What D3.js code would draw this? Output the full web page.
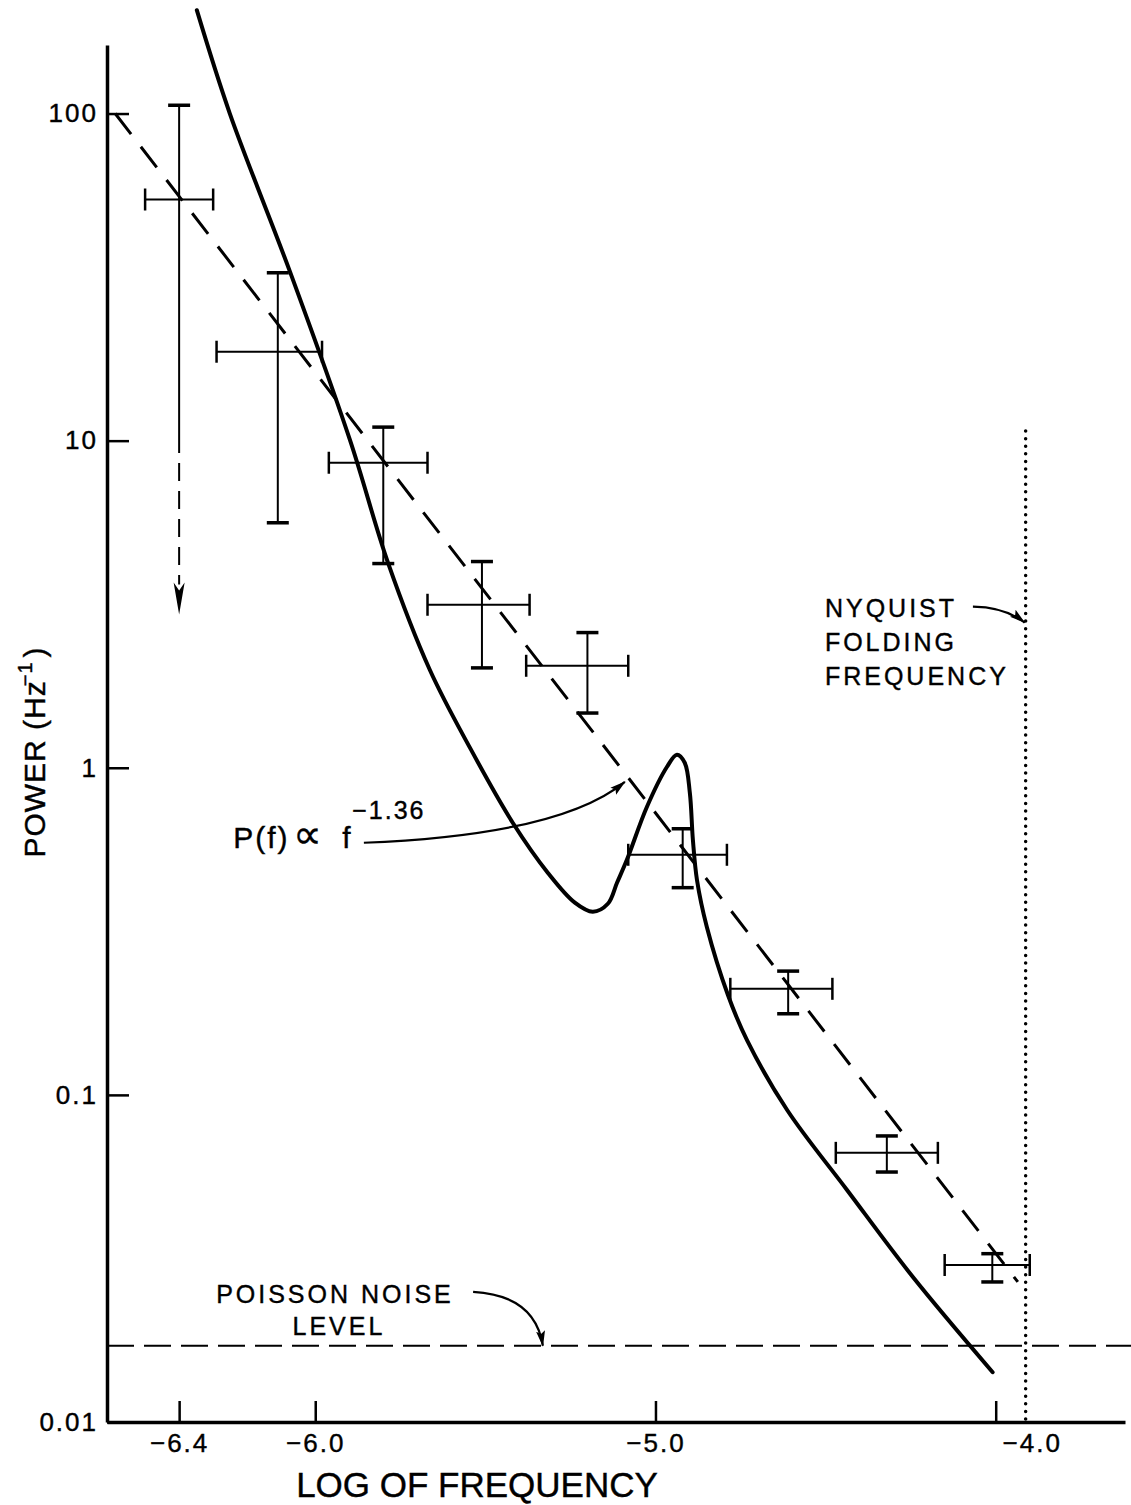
<!DOCTYPE html>
<html lang="en">
<head>
<meta charset="utf-8">
<title>Power spectrum</title>
<script src="https://d3js.org/d3.v7.min.js"></script>
<style>
  body { margin: 0; background: #fff; }
  svg text { font-family: "Liberation Sans", Arial, Helvetica, sans-serif; fill: #000; stroke: #000; stroke-width: 0.4px; }
  .axis path, .axis line { stroke: #000; fill: none; }
  .axis path { stroke-width: 3.5; }
  .axis line { stroke-width: 2.5; }
  .axis text { font-size: 26px; letter-spacing: 2px; font-family: "Liberation Sans", Arial, sans-serif; fill: #000; stroke: #000; stroke-width: 0.4px; }
  .note { font-size: 25px; letter-spacing: 3px; }
</style>
</head>
<body>
<div id="chart"></div>
<script>
// measured points: log of frequency (centre, low, high) and power in Hz^-1 (centre, high, low)
var logFreq   = [-6.40, -6.11, -5.80, -5.51, -5.20, -4.92, -4.61, -4.32, -4.01];
var freqLow   = [-6.50, -6.29, -5.96, -5.67, -5.38, -5.08, -4.78, -4.47, -4.15];
var freqHigh  = [-6.30, -5.98, -5.67, -5.37, -5.08, -4.79, -4.48, -4.17, -3.90];
var power     = [54.6, 18.7, 8.56, 3.15, 2.05, 0.542, 0.211, 0.0665, 0.0302];
var powerHigh = [106, 32.6, 11.0, 4.27, 2.59, 0.651, 0.239, 0.0749, 0.0327];
var powerLow  = [10.4, 5.61, 4.21, 2.02, 1.47, 0.430, 0.177, 0.0581, 0.0268];
// first point only has an upper limit, the dashed arrow goes down to here
var limitArrowTo = 2.94;

// model curve (solid)
var modelFreq  = [-6.348, -6.251, -6.074, -5.898, -5.786, -5.663, -5.545, -5.419, -5.316, -5.237,
                  -5.184, -5.140, -5.113, -5.084, -5.025, -4.966, -4.937, -4.914, -4.899, -4.890,
                  -4.878, -4.849, -4.787, -4.731, -4.613, -4.437, -4.244, -4.009];
var modelPower = [207, 100, 32.8, 10.05, 4.23, 1.99, 1.15, 0.678, 0.477, 0.387,
                  0.363, 0.384, 0.445, 0.523, 0.760, 1.007, 1.096, 1.036, 0.839, 0.602,
                  0.454, 0.326, 0.202, 0.147, 0.0899, 0.0512, 0.0278, 0.0142];

// power law fit P(f) ~ f^-1.36, end points
var fitFreq  = [-6.588, -3.935];
var fitPower = [100, 0.0268];

var noiseLevel  = 0.0171;
var nyquistFreq = -3.912;
var nyquistTop  = 10.7;

var xTicks = [-6.4, -6.0, -5.0, -4.0];
var yTicks = [100, 10, 1, 0.1, 0.01];

var w = 1131, h = 1505;

var svg = d3.select("#chart").append("svg")
    .attr("width", w)
    .attr("height", h);

var xScale = d3.scaleLinear().domain([-6.612, -3.62]).range([107, 1125]);
var yScale = d3.scaleLog().domain([0.01, 162]).range([1422, 45]);

function pt(f, p) { return [xScale(f), yScale(p)]; }

var defs = svg.append("defs");
defs.append("marker")
    .attr("id", "head")
    .attr("viewBox", "0 0 16 10")
    .attr("refX", 15).attr("refY", 5)
    .attr("markerWidth", 16).attr("markerHeight", 10)
    .attr("markerUnits", "userSpaceOnUse")
    .attr("orient", "auto")
  .append("path")
    .attr("d", "M0,0.5 L16,5 L0,9.5 L3,5 Z")
    .attr("fill", "#000");

// axes
var xAxis = svg.append("g")
    .attr("class", "axis")
    .attr("transform", "translate(0," + yScale(0.01) + ")")
    .call(d3.axisBottom(xScale)
      .tickValues(xTicks)
      .tickSizeInner(-21)
      .tickSizeOuter(0)
      .tickPadding(12)
      .tickFormat(function(d) { return "\u2212" + Math.abs(d).toFixed(1); }));
xAxis.selectAll(".tick text")
    .attr("dx", function(d) { return d === -4 ? 36 : 0; });

svg.append("g")
    .attr("class", "axis")
    .attr("transform", "translate(" + xScale.range()[0] + ",0)")
    .call(d3.axisLeft(yScale)
      .tickValues(yTicks)
      .tickSizeInner(-22)
      .tickSizeOuter(0)
      .tickPadding(9)
      .tickFormat(d3.format("~g")));

// axis titles
svg.append("text")
    .attr("x", 477)
    .attr("y", 1497)
    .attr("text-anchor", "middle")
    .style("font-size", "35px")
    .text("LOG OF FREQUENCY");

var yTitle = svg.append("text")
    .attr("transform", "translate(45,752) rotate(-90)")
    .attr("text-anchor", "middle")
    .style("font-size", "30px")
    .style("letter-spacing", "1px");
yTitle.append("tspan").text("POWER (Hz");
yTitle.append("tspan").attr("dy", -13).attr("dx", -6).style("font-size", "20px").text("\u22121");
yTitle.append("tspan").attr("dy", 13).attr("dx", 4).text(")");

// Poisson noise level
svg.append("line")
    .attr("x1", xScale.range()[0]).attr("x2", w)
    .attr("y1", yScale(noiseLevel)).attr("y2", yScale(noiseLevel))
    .attr("stroke", "#000").attr("stroke-width", 2)
    .attr("stroke-dasharray", "27,10");

// Nyquist folding frequency
svg.append("line")
    .attr("x1", xScale(nyquistFreq)).attr("x2", xScale(nyquistFreq))
    .attr("y1", yScale(nyquistTop)).attr("y2", yScale(0.01))
    .attr("stroke", "#000").attr("stroke-width", 3.5)
    .attr("stroke-linecap", "round")
    .attr("stroke-dasharray", "0,7.6");

// power law fit
var fitLine = d3.line()
    .x(function(d) { return xScale(d[0]); })
    .y(function(d) { return yScale(d[1]); });
svg.append("path")
    .datum(d3.zip(fitFreq, fitPower))
    .attr("d", fitLine)
    .attr("fill", "none").attr("stroke", "#000")
    .attr("stroke-width", 3)
    .attr("stroke-dasharray", "26,16");

// model
var modelLine = d3.line()
    .x(function(d) { return xScale(d[0]); })
    .y(function(d) { return yScale(d[1]); })
    .curve(d3.curveCatmullRom.alpha(0.5));
svg.append("path")
    .datum(d3.zip(modelFreq, modelPower))
    .attr("d", modelLine)
    .attr("fill", "none").attr("stroke", "#000")
    .attr("stroke-width", 4)
    .attr("stroke-linejoin", "round")
    .attr("stroke-linecap", "round");

// error bars
var pts = logFreq.map(function(f, i) {
  return {f: f, lo: freqLow[i], hi: freqHigh[i], p: power[i], pHi: powerHigh[i], pLo: powerLow[i], limit: i === 0};
});
var bars = svg.append("g").attr("stroke", "#000").attr("fill", "none");
var cap = 11;
pts.forEach(function(d) {
  var cx = xScale(d.f), cy = yScale(d.p);
  var x0 = xScale(d.lo), x1 = xScale(d.hi);
  var yT = yScale(d.pHi), yB = yScale(d.pLo);
  bars.append("line").attr("x1", x0).attr("x2", x1).attr("y1", cy).attr("y2", cy).attr("stroke-width", 2);
  bars.append("line").attr("x1", x0).attr("x2", x0).attr("y1", cy - cap).attr("y2", cy + cap).attr("stroke-width", 2.5);
  bars.append("line").attr("x1", x1).attr("x2", x1).attr("y1", cy - cap).attr("y2", cy + cap).attr("stroke-width", 2.5);
  bars.append("line").attr("x1", cx).attr("x2", cx).attr("y1", yT).attr("y2", yB).attr("stroke-width", 2);
  bars.append("line").attr("x1", cx - cap).attr("x2", cx + cap).attr("y1", yT).attr("y2", yT).attr("stroke-width", 3.5);
  if (!d.limit) {
    bars.append("line").attr("x1", cx - cap).attr("x2", cx + cap).attr("y1", yB).attr("y2", yB).attr("stroke-width", 3.5);
  } else {
    var tip = yScale(limitArrowTo);
    bars.append("line").attr("x1", cx).attr("x2", cx).attr("y1", yB).attr("y2", tip - 30)
        .attr("stroke-width", 2).attr("stroke-dasharray", "18,10");
    bars.append("path")
        .attr("d", "M" + (cx - 5.5) + "," + (tip - 32) + " L" + cx + "," + tip + " L" + (cx + 5.5) + "," + (tip - 32) + " L" + cx + "," + (tip - 24) + " Z")
        .attr("fill", "#000").attr("stroke", "none");
  }
});

// annotations
function curved(a, c, b) {
  return "M" + a[0] + "," + a[1] + " Q" + c[0] + "," + c[1] + " " + b[0] + "," + b[1];
}
var arrows = [
  [pt(-5.857, 0.59), pt(-5.281, 0.623), pt(-5.090, 0.906)],
  [pt(-5.536, 0.0250), pt(-5.354, 0.0244), pt(-5.331, noiseLevel)],
  [pt(-4.067, 3.11), pt(-3.973, 3.10), pt(-3.915, 2.78)]
];
svg.append("g").selectAll("path")
    .data(arrows)
    .enter().append("path")
    .attr("d", function(d) { return curved(d[0], d[1], d[2]); })
    .attr("fill", "none").attr("stroke", "#000").attr("stroke-width", 2.2)
    .attr("marker-end", "url(#head)");

// P(f) label
var fitPos = pt(-6.241, 0.569);
var fitText = svg.append("text").attr("x", fitPos[0]).attr("y", fitPos[1]).style("font-size", "30px");
fitText.append("tspan").attr("x", fitPos[0]).style("letter-spacing", "2px").text("P(f)");
fitText.append("tspan").attr("x", fitPos[0] + 60).style("font-family", "'DejaVu Sans'").style("font-size", "40px").text("\u221d");
fitText.append("tspan").attr("x", fitPos[0] + 109).text("f");
svg.append("text")
    .attr("x", fitPos[0] + 119).attr("y", fitPos[1] - 29)
    .style("font-size", "25px").style("letter-spacing", "2px")
    .text("\u22121.36");

// Poisson label
var noisePos = pt(-5.942, 0.0231);
var noiseText = svg.append("text").attr("class", "note").attr("text-anchor", "middle");
noiseText.append("tspan").attr("x", noisePos[0]).attr("y", noisePos[1]).text("POISSON NOISE");
noiseText.append("tspan").attr("x", noisePos[0] + 4).attr("y", noisePos[1] + 32).text("LEVEL");

// Nyquist label
var nyqPos = pt(-4.502, 2.90);
svg.append("text").attr("class", "note")
    .selectAll("tspan")
    .data(["NYQUIST", "FOLDING", "FREQUENCY"])
    .enter().append("tspan")
    .attr("x", nyqPos[0])
    .attr("y", function(d, i) { return nyqPos[1] + i * 34; })
    .text(function(d) { return d; });
</script>
</body>
</html>
